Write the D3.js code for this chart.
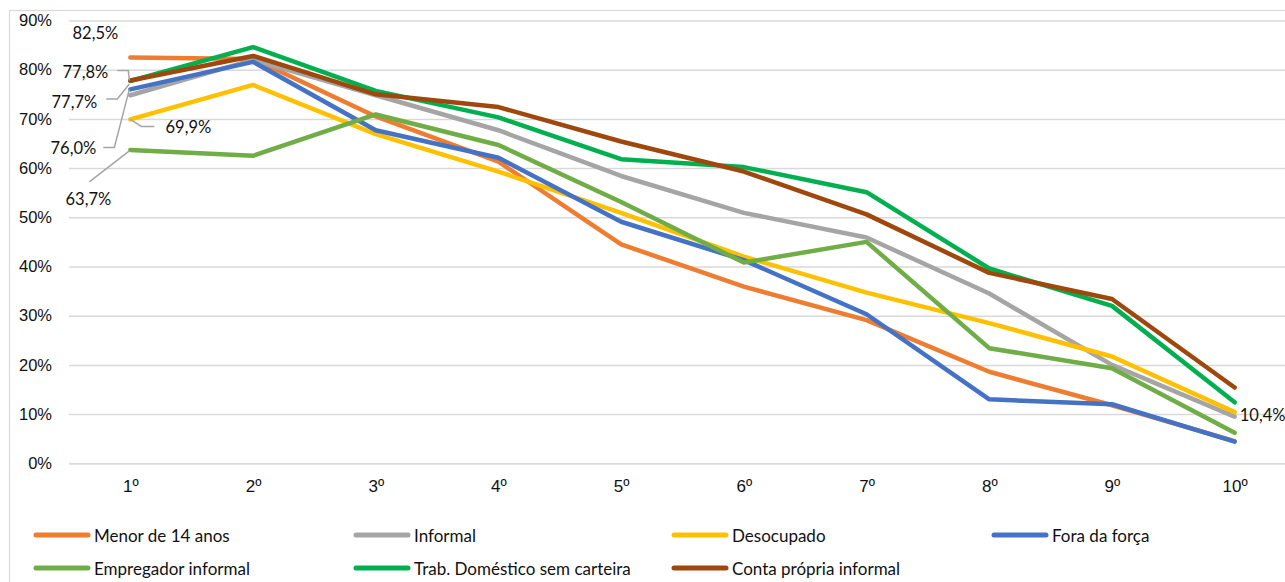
<!DOCTYPE html>
<html>
<head>
<meta charset="utf-8">
<script src="https://cdn.jsdelivr.net/npm/d3@7"></script>
<style>
  html, body { margin: 0; padding: 0; background: #fff; overflow: hidden; }
  svg { display: block; font-family: Lato, "Open Sans", sans-serif; }
  .tick text { fill: #111; }
</style>
</head>
<body>
<div class="chart"></div>
<script>
const width = 1285;
const height = 582;

// deciles
const categories = ['1º', '2º', '3º', '4º', '5º', '6º', '7º', '8º', '9º', '10º'];
const yTicks = [0, 0.1, 0.2, 0.3, 0.4, 0.5, 0.6, 0.7, 0.8, 0.9];

// series values (share)
const menor14     = [0.825, 0.822, 0.705, 0.613, 0.445, 0.359, 0.291, 0.186, 0.118, 0.045];
const informal    = [0.748, 0.820, 0.748, 0.677, 0.584, 0.509, 0.459, 0.345, 0.200, 0.095];
const desocupado  = [0.699, 0.769, 0.669, 0.593, 0.509, 0.420, 0.347, 0.285, 0.217, 0.104];
const foraForca   = [0.760, 0.816, 0.677, 0.621, 0.491, 0.413, 0.303, 0.130, 0.120, 0.044];
const empregador  = [0.637, 0.625, 0.709, 0.647, 0.531, 0.408, 0.450, 0.234, 0.193, 0.062];
const domestico   = [0.777, 0.846, 0.757, 0.703, 0.618, 0.602, 0.551, 0.396, 0.320, 0.124];
const contaPropria = [0.778, 0.828, 0.750, 0.724, 0.654, 0.593, 0.506, 0.387, 0.334, 0.154];

const seriesNames = ['Menor de 14 anos', 'Informal', 'Desocupado', 'Fora da força',
  'Empregador informal', 'Trab. Doméstico sem carteira', 'Conta própria informal'];
const seriesValues = [menor14, informal, desocupado, foraForca, empregador, domestico, contaPropria];
const colors = ['#ED7D31', '#A5A5A5', '#FFC000', '#4472C4', '#70AD47', '#00B050', '#9E480E'];

// data labels shown in the chart: [series index, category index]
const labelPoints = [[0, 0], [6, 0], [5, 0], [3, 0], [2, 0], [4, 0], [2, 9]];

const series = seriesNames.map((name, i) => ({ name, values: seriesValues[i], color: colors[i] }));

const svg = d3.select('.chart').append('svg')
  .attr('width', width)
  .attr('height', height);

// chart area border
svg.append('rect')
  .attr('x', 9.5).attr('y', 10.5)
  .attr('width', width + 20).attr('height', height + 20)
  .attr('fill', 'none')
  .attr('stroke', '#d9d9d9')
  .attr('stroke-width', 1.2);

const xScale = d3.scalePoint()
  .domain(categories)
  .range([69, 1296])
  .padding(0.5);

const yScale = d3.scaleLinear()
  .domain([0, 0.9])
  .range([463.3, 20.5]);

const fmt = v => d3.format('.1%')(v).replace('.', ',');

// gridlines + y labels
const yAxis = d3.axisLeft(yScale)
  .tickValues(yTicks)
  .tickFormat(d => Math.round(d * 100) + '%')
  .tickSize(-(1296 - 69))
  .tickPadding(20);

svg.append('g')
  .attr('transform', 'translate(69,0)')
  .call(yAxis)
  .call(g => g.select('.domain').remove())
  .call(g => g.selectAll('.tick line').attr('stroke', '#d9d9d9').attr('stroke-width', 1.5))
  .call(g => g.selectAll('.tick text').attr('font-size', 16.5).attr('x', -17));

// x labels
svg.append('g')
  .attr('transform', `translate(0,${yScale(0)})`)
  .call(d3.axisBottom(xScale).tickSize(0).tickPadding(17))
  .call(g => g.select('.domain').attr('stroke', '#d9d9d9').attr('stroke-width', 1.5))
  .call(g => g.selectAll('.tick text').attr('font-size', 17));

// lines
const line = d3.line()
  .x((d, i) => xScale(categories[i]))
  .y(d => yScale(d));

svg.append('g').selectAll('path')
  .data(series)
  .join('path')
  .attr('fill', 'none')
  .attr('stroke', d => d.color)
  .attr('stroke-width', 4.5)
  .attr('stroke-linejoin', 'round')
  .attr('stroke-linecap', 'round')
  .attr('d', d => line(d.values));

// data labels with leader lines (offsets relative to the point)
const labelLayout = [
  { dx: -35, dy: -24, leader: null },
  { dx: -45, dy: -9, leader: [[-1, 0], [-2, -10], [-13, -10]] },
  { dx: -56, dy: 21, leader: [[-1, 3], [-13, 18], [-24, 18]] },
  { dx: -57, dy: 59, leader: [[-1, 0], [-16, 58], [-27, 58]] },
  { dx: 58, dy: 8, leader: [[0, 0], [11, 7], [24, 7]] },
  { dx: -42, dy: 49, leader: [[-1, 1], [-41, 32]] },
  { dx: 28, dy: 3, leader: null }
];

const labels = svg.append('g');
labelPoints.forEach(([s, c], k) => {
  const px = xScale(categories[c]);
  const py = yScale(seriesValues[s][c]);
  const lay = labelLayout[k];
  if (lay.leader) {
    labels.append('path')
      .attr('fill', 'none')
      .attr('stroke', '#A5A5A5')
      .attr('stroke-width', 1.5)
      .attr('d', d3.line()(lay.leader.map(p => [px + p[0], py + p[1]])));
  }
  labels.append('text')
    .attr('x', px + lay.dx)
    .attr('y', py + lay.dy)
    .attr('text-anchor', 'middle')
    .attr('dominant-baseline', 'central')
    .attr('font-size', 16.5)
    .attr('fill', '#111')
    .text(fmt(seriesValues[s][c]));
});

// legend
const legendX = [33, 353, 671, 991];
const legendY = [535, 568];
const legend = svg.append('g');
series.forEach((d, i) => {
  const gx = legendX[i % 4];
  const gy = legendY[Math.floor(i / 4)];
  legend.append('line')
    .attr('x1', gx + 3).attr('x2', gx + 55)
    .attr('y1', gy).attr('y2', gy)
    .attr('stroke', d.color)
    .attr('stroke-width', 5)
    .attr('stroke-linecap', 'round');
  legend.append('text')
    .attr('x', gx + 61)
    .attr('y', gy)
    .attr('dominant-baseline', 'central')
    .attr('font-size', 17)
    .attr('fill', '#111')
    .text(d.name);
});
</script>
</body>
</html>
